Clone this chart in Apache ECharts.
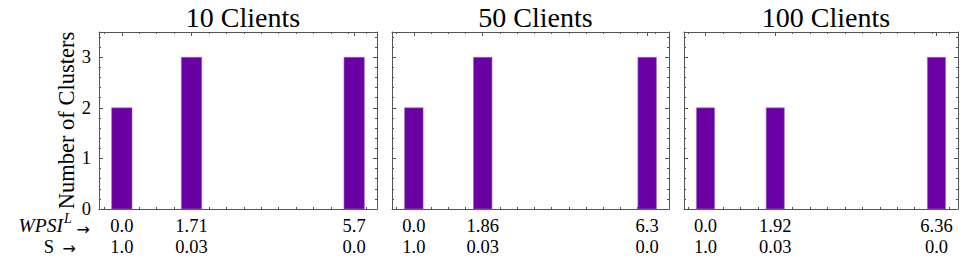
<!DOCTYPE html>
<html>
<head>
<meta charset="utf-8">
<script src="https://cdn.jsdelivr.net/npm/echarts@6/dist/echarts.min.js"></script>
<style>
html,body{margin:0;padding:0;background:#fff;}
#chart{width:967px;height:261px;}
</style>
</head>
<body>
<div id="chart"></div>
<script>
// ---- data ----
const panelTitles = ['10 Clients', '50 Clients', '100 Clients'];
const wpsi10 = [0.0, 1.71, 5.7];
const wpsi50 = [0.0, 1.86, 6.3];
const wpsi100 = [0.0, 1.92, 6.36];
const wpsiLabels10 = ['0.0', '1.71', '5.7'];
const wpsiLabels50 = ['0.0', '1.86', '6.3'];
const wpsiLabels100 = ['0.0', '1.92', '6.36'];
const sLabels10 = ['1.0', '0.03', '0.0'];
const sLabels50 = ['1.0', '0.03', '0.0'];
const sLabels100 = ['1.0', '0.03', '0.0'];
const counts10 = [2, 3, 3];
const counts50 = [2, 3, 3];
const counts100 = [2, 2, 3];
const yTicks = [0, 1, 2, 3];
const yLabel = 'Number of Clusters';
const rowNameMain = 'WPSI';
const rowNameSup = 'L';
const rowNameS = 'S';
const arrow = '→';
const barWidthUnits = 0.5;

// ---- layout/style ----
const FONT = 'Liberation Serif';
const BAR_COLOR = '#6a00a3';
const FRAME = '#555555';
const panels = [
  {title: panelTitles[0], x: wpsi10, xl: wpsiLabels10, sl: sLabels10, y: counts10, left: 99, width: 278},
  {title: panelTitles[1], x: wpsi50, xl: wpsiLabels50, sl: sLabels50, y: counts50, left: 392, width: 277},
  {title: panelTitles[2], x: wpsi100, xl: wpsiLabels100, sl: sLabels100, y: counts100, left: 684, width: 274}
];
const TOP = 32, HEIGHT = 177;
const yMax = 3.5;

const grids = [], xAxes = [], yAxes = [], series = [], titles = [];

function multiplesIn(step, lo, hi) {
  const out = [];
  const k0 = Math.ceil(lo / step), k1 = Math.floor(hi / step);
  for (let k = k0; k <= k1; k++) out.push(+(k * step).toFixed(6));
  return out;
}

panels.forEach((p, i) => {
  const lo = p.x[0] - barWidthUnits / 2, hi = p.x[p.x.length - 1] + barWidthUnits / 2;
  const span = hi - lo;
  const xmin = lo - 0.05 * span, xmax = hi + 0.05 * span;
  const majorStep = p.x[1] - p.x[0];
  const xMinor = multiplesIn(majorStep / 4, xmin, xmax).filter(v => !p.x.some(m => Math.abs(m - v) < 1e-6));
  const yMinor = multiplesIn(0.2, 0, yMax).filter(v => Math.abs(v - Math.round(v)) > 1e-6);

  const g = {left: p.left, top: TOP, width: p.width, height: HEIGHT};
  grids.push(Object.assign({}, g), Object.assign({}, g));
  const gMain = 2 * i, gMinor = 2 * i + 1;

  const baseX = {type: 'value', min: xmin, max: xmax, splitLine: {show: false}};
  const baseY = {type: 'value', min: 0, max: yMax, splitLine: {show: false}};
  const lineOn = {show: true, onZero: false, lineStyle: {color: FRAME, width: 1}};
  const lineOff = {show: false, onZero: false};

  xAxes.push(Object.assign({}, baseX, {
    gridIndex: gMain, position: 'bottom', axisLine: lineOn,
    axisTick: {show: true, inside: true, length: 4, customValues: p.x, lineStyle: {color: FRAME}},
    axisLabel: {
      show: true, customValues: p.x, margin: 6, fontFamily: FONT, fontSize: 18.5, color: '#000', lineHeight: 21,
      formatter: (v) => {
        const k = p.x.findIndex(m => Math.abs(m - v) < 1e-6);
        return k >= 0 ? p.xl[k] + '\n' + p.sl[k] : '';
      }
    }
  }));
  xAxes.push(Object.assign({}, baseX, {
    gridIndex: gMain, position: 'top', axisLine: lineOn,
    axisTick: {show: true, inside: true, length: 4, customValues: p.x, lineStyle: {color: FRAME}},
    axisLabel: {show: false}
  }));
  ['bottom', 'top'].forEach(pos => xAxes.push(Object.assign({}, baseX, {
    gridIndex: gMinor, position: pos, axisLine: lineOff,
    axisTick: {show: true, inside: true, length: 2, customValues: xMinor, lineStyle: {color: FRAME}},
    axisLabel: {show: false}
  })));

  yAxes.push(Object.assign({}, baseY, {
    gridIndex: gMain, position: 'left', axisLine: lineOn,
    axisTick: {show: true, inside: true, length: 4, customValues: yTicks, lineStyle: {color: FRAME}},
    axisLabel: {show: i === 0, customValues: yTicks, margin: 8, fontFamily: FONT, fontSize: 18.5, color: '#000', lineHeight: 14},
    name: i === 0 ? yLabel : '', nameLocation: 'middle', nameGap: 22,
    nameTextStyle: {fontFamily: FONT, fontSize: 22.5, color: '#000', lineHeight: 18}
  }));
  yAxes.push(Object.assign({}, baseY, {
    gridIndex: gMain, position: 'right', axisLine: lineOn,
    axisTick: {show: true, inside: true, length: 4, customValues: yTicks, lineStyle: {color: FRAME}},
    axisLabel: {show: false}
  }));
  ['left', 'right'].forEach(pos => yAxes.push(Object.assign({}, baseY, {
    gridIndex: gMinor, position: pos, axisLine: lineOff,
    axisTick: {show: true, inside: true, length: 2, customValues: yMinor, lineStyle: {color: FRAME}},
    axisLabel: {show: false}
  })));

  series.push({
    type: 'custom',
    xAxisIndex: 4 * i, yAxisIndex: 4 * i,
    data: p.x.map((xv, k) => [xv, p.y[k]]),
    encode: {x: 0, y: 1},
    renderItem: (params, api) => {
      const xv = api.value(0), yv = api.value(1);
      const a = api.coord([xv - barWidthUnits / 2, yv]);
      const b = api.coord([xv + barWidthUnits / 2, 0]);
      return {
        type: 'rect',
        shape: {x: a[0], y: a[1], width: b[0] - a[0], height: b[1] - a[1]},
        style: {fill: BAR_COLOR, stroke: '#9b6cc9', lineWidth: 0.6}
      };
    }
  });

  titles.push({
    text: p.title, left: p.left + p.width / 2, top: -2, textAlign: 'center',
    textStyle: {fontFamily: FONT, fontSize: 28, fontWeight: 'normal', color: '#000'}
  });
});

const txt = (text, x, y, align, extra) => ({
  type: 'text', x: x, y: y,
  style: Object.assign({text: text, align: align, verticalAlign: 'middle', fill: '#000',
    fontFamily: FONT, fontSize: 18.5, lineHeight: 14}, extra || {})
});

const chart = echarts.init(document.getElementById('chart'), null, {renderer: 'svg'});
chart.setOption({
  animation: false,
  backgroundColor: '#fff',
  title: titles,
  grid: grids,
  xAxis: xAxes,
  yAxis: yAxes,
  series: series,
  graphic: [
    txt(rowNameMain, 63, 225.5, 'right', {fontStyle: 'italic', fontSize: 19.5}),
    txt(rowNameSup, 64, 218, 'left', {fontStyle: 'italic', fontSize: 14, lineHeight: 10}),
    txt(arrow, 90, 229, 'right', {fontFamily: 'DejaVu Sans', fontSize: 16, lineHeight: 10}),
    txt(rowNameS, 54, 246.5, 'right', {}),
    txt(arrow, 76, 248.5, 'right', {fontFamily: 'DejaVu Sans', fontSize: 16, lineHeight: 10})
  ]
});
</script>
</body>
</html>
